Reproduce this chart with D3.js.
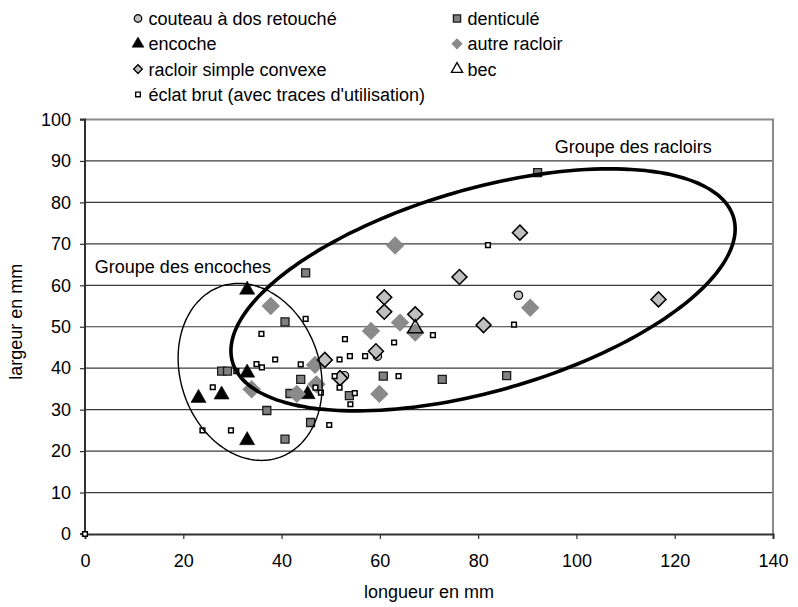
<!DOCTYPE html>
<html><head><meta charset="utf-8">
<script src="https://cdn.jsdelivr.net/npm/d3@7"></script>
<style>
html,body{margin:0;padding:0;background:#fff;}
text{font-family:"Liberation Sans",Arial,sans-serif;}
</style></head>
<body><svg id="chart" width="798" height="607"></svg>
<script>
// ---------- data (longueur mm, largeur mm) ----------
const couteau = [[88.2,57.6],[59.5,42.9],[52.8,38.2]];
const denticule = [[27.8,39.3],[29.0,39.3],[37.0,29.8],[44.9,63.0],[40.7,51.2],[43.9,37.3],[41.7,33.9],[53.8,33.4],[60.7,38.1],[72.7,37.3],[45.9,26.9],[40.7,22.9],[92.1,87.2],[85.8,38.2]];
const encoche = [[33.0,58.9],[33.0,38.9],[23.1,32.8],[27.8,33.6],[33.0,22.6],[45.3,33.7]];
const autreRacloir = [[37.8,55.0],[33.9,34.9],[64.1,51.0],[67.2,48.6],[58.2,49.0],[46.8,40.8],[47.1,36.1],[43.1,33.8],[59.9,33.8],[90.6,54.6],[63.1,69.6]];
const racloirSimple = [[76.2,62.0],[60.9,57.1],[60.9,53.6],[67.2,53.0],[59.2,44.1],[48.8,42.0],[51.9,37.6],[88.5,72.7],[116.7,56.6],[81.1,50.4]];
const bec = [[67.2,49.6]];
const eclat = [[35.9,48.3],[38.7,42.1],[34.9,41.0],[36.0,40.2],[30.8,39.3],[26.0,35.4],[23.9,25.0],[29.7,25.0],[44.9,51.9],[52.9,47.0],[62.9,46.2],[70.8,48.0],[43.9,40.9],[51.8,42.1],[53.9,42.9],[57.0,42.9],[50.8,38.1],[63.8,38.1],[46.9,35.3],[51.8,35.3],[48.0,34.1],[54.9,34.0],[54.0,31.3],[49.7,26.3],[82.0,69.7],[87.3,50.5],[0,0]];
const seriesNames = ["couteau à dos retouché","denticulé","encoche","autre racloir","racloir simple convexe","bec","éclat brut (avec traces d'utilisation)"];
const xTicks = [0,20,40,60,80,100,120,140];
const yTicks = [0,10,20,30,40,50,60,70,80,90,100];
const xTitle = "longueur en mm";
const yTitle = "largeur en mm";
// group ellipses: centre (data), half width, half height, y-offset at x extremes (data units)
const ellipseRacloirs = {cx:81.0, cy:58.9, hw:51.3, hh:29.2, tilt:14.7};
const ellipseEncoches = {cx:33.6, cy:39.1, hw:14.65, hh:21.35, tilt:-3.35};
const groupLabels = [{text:"Groupe des encoches", x:2.0, y:63.0},{text:"Groupe des racloirs", x:95.6, y:91.9}];

// ---------- layout ----------
const svg = d3.select("#chart");
const L=85, R=773, T=119.5, B=534;
const x = d3.scaleLinear().domain([0,140]).range([L,R]);
const y = d3.scaleLinear().domain([0,100]).range([B,T]);
const FS = 18;

// gridlines
svg.append("g").selectAll("line").data(yTicks.filter(v=>v>0 && v<100)).join("line")
  .attr("x1",L).attr("x2",R).attr("y1",d=>y(d)).attr("y2",d=>y(d))
  .attr("stroke","#3a3a3a").attr("stroke-width",1.2);
// plot border top/right (gray)
svg.append("path").attr("d",`M${L},${y(100)}H${R}V${B}`).attr("fill","none").attr("stroke","#8a8a8a").attr("stroke-width",2);

// axes
const ax = svg.append("g").attr("transform",`translate(0,${B})`)
  .call(d3.axisBottom(x).tickValues(xTicks).tickSize(5).tickPadding(15).tickFormat(d3.format("d")));
const ay = svg.append("g").attr("transform",`translate(${L},0)`)
  .call(d3.axisLeft(y).tickValues(yTicks).tickSize(5).tickPadding(9).tickFormat(d3.format("d")));
[ax,ay].forEach(g=>{
  g.select(".domain").attr("stroke","#303030").attr("stroke-width",2);
  g.selectAll(".tick line").attr("stroke","#303030").attr("stroke-width",1.2);
  g.selectAll(".tick text").attr("font-size",FS).attr("fill","#000").style("font-family","'Liberation Sans',Arial,sans-serif");
});
ay.select(".domain").attr("d",`M-5,${y(100)}H0V${B}H-5`);

// axis titles
svg.append("text").attr("x",(L+R)/2).attr("y",598).attr("text-anchor","middle").attr("font-size",FS).text(xTitle);
svg.append("text").attr("transform",`translate(22,${(T+B)/2 - 5}) rotate(-90)`).attr("text-anchor","middle").attr("font-size",FS).text(yTitle);

// ---------- markers ----------
const sym = (type,size)=>d3.symbol().type(type).size(size)();
const styles = [
  {d:sym(d3.symbolCircle,55), fill:"#c0c0c0", stroke:"#000", sw:1.2, rot:0, data:couteau, leg:sym(d3.symbolCircle,45)},
  {d:sym(d3.symbolSquare,64), fill:"#808080", stroke:"#1a1a1a", sw:1.3, rot:0, data:denticule, leg:sym(d3.symbolSquare,52)},
  {d:sym(d3.symbolTriangle,100), fill:"#000", stroke:"#000", sw:0.5, rot:0, data:encoche, leg:sym(d3.symbolTriangle,62)},
  {d:sym(d3.symbolSquare,170), fill:"#8a8a8a", stroke:"none", sw:0, rot:45, data:autreRacloir, leg:sym(d3.symbolSquare,64)},
  {d:sym(d3.symbolSquare,112), fill:"#c0c0c0", stroke:"#000", sw:1.5, rot:45, data:racloirSimple, leg:sym(d3.symbolSquare,38)},
  {d:sym(d3.symbolTriangle,100), fill:"none", stroke:"#000", sw:1.4, rot:0, data:bec, leg:sym(d3.symbolTriangle,55)},
  {d:sym(d3.symbolSquare,22), fill:"#fff", stroke:"#000", sw:1.5, rot:0, data:eclat, leg:sym(d3.symbolSquare,22)}
];
styles.forEach(s=>{
  svg.append("g").selectAll("path").data(s.data).join("path")
    .attr("d",s.d)
    .attr("transform",d=>`translate(${x(d[0])},${y(d[1])}) rotate(${s.rot})`)
    .attr("fill",s.fill).attr("stroke",s.stroke).attr("stroke-width",s.sw);
});

// ---------- group ellipses ----------
const ellipsePts = e=>{
  const s = Math.sqrt(e.hh*e.hh - e.tilt*e.tilt);
  return d3.range(0,360,2).map(a=>{const t=a*Math.PI/180; return [e.cx+e.hw*Math.cos(t), e.cy+e.tilt*Math.cos(t)+s*Math.sin(t)];});
};
const ln = d3.line().x(d=>x(d[0])).y(d=>y(d[1])).curve(d3.curveCardinalClosed);
svg.append("path").attr("d",ln(ellipsePts(ellipseRacloirs))).attr("fill","none").attr("stroke","#000").attr("stroke-width",3.6);
svg.append("path").attr("d",ln(ellipsePts(ellipseEncoches))).attr("fill","none").attr("stroke","#000").attr("stroke-width",1.4);
svg.append("g").selectAll("text").data(groupLabels).join("text")
  .attr("x",d=>x(d.x)).attr("y",d=>y(d.y)).attr("font-size",FS).attr("fill","#000").text(d=>d.text);

// ---------- legend ----------
const legPos = [[138,0],[457,0],[138,1],[457,1],[138,2],[457,2],[138,3]];
const lg = svg.append("g");
styles.forEach((s,i)=>{
  const [lx,row]=legPos[i]; const by = 25 + row*25.3;
  lg.append("path").attr("d",s.leg).attr("transform",`translate(${lx},${by-6.5}) rotate(${s.rot})`)
    .attr("fill",s.fill==="none"?"none":s.fill).attr("stroke",s.stroke).attr("stroke-width",s.sw? Math.min(s.sw,1.3):0);
  lg.append("text").attr("x",lx+10.5).attr("y",by).attr("font-size",FS).attr("fill","#000").text(seriesNames[i]);
});
</script></body></html>
